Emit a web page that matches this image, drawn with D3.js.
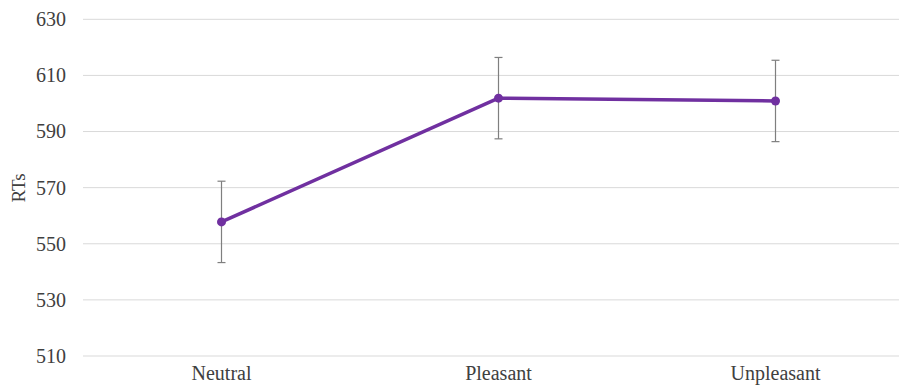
<!DOCTYPE html>
<html>
<head>
<meta charset="utf-8">
<script src="https://cdn.jsdelivr.net/npm/d3@7/dist/d3.min.js"></script>
<style>
  html, body { margin: 0; padding: 0; background: #fff; }
  svg { display: block; }
</style>
</head>
<body>
<svg id="chart" width="899" height="391"></svg>
<script>
// Mean reaction times per picture category, with error bar half-widths
const categories = ["Neutral", "Pleasant", "Unpleasant"];
const meanRT = [557.8, 601.9, 600.9];
const errorRT = [14.5, 14.5, 14.5];
const yTicks = [510, 530, 550, 570, 590, 610, 630];
const yLabel = "RTs";

const W = 899, H = 391;
const plot = { left: 83, right: 914, top: 19.3, bottom: 356 };
const FONT = "'Liberation Serif', 'Times New Roman', serif";
const TEXT_COLOR = "#404040";

const svg = d3.select("#chart");

const x = d3.scaleBand().domain(categories).range([plot.left, plot.right]);
const y = d3.scaleLinear().domain([510, 630]).range([plot.bottom, plot.top]);

// Horizontal gridlines
svg.append("g")
  .selectAll("line")
  .data(yTicks)
  .join("line")
  .attr("x1", plot.left)
  .attr("x2", W)
  .attr("y1", d => y(d))
  .attr("y2", d => y(d))
  .attr("stroke", "#d9d9d9")
  .attr("stroke-width", 1);

// Y axis tick labels
const yAxis = d3.axisLeft(y).tickValues(yTicks).tickSize(0).tickPadding(0);
const gy = svg.append("g")
  .attr("transform", `translate(66,0)`)
  .call(yAxis);
gy.select(".domain").remove();
gy.selectAll("text")
  .style("font-family", FONT)
  .style("font-size", "20px")
  .style("fill", TEXT_COLOR);

// X axis category labels
const xAxis = d3.axisBottom(x).tickSize(0).tickPadding(0);
const gx = svg.append("g")
  .attr("transform", `translate(0,366)`)
  .call(xAxis);
gx.select(".domain").remove();
gx.selectAll("text")
  .style("font-family", FONT)
  .style("font-size", "20px")
  .style("fill", TEXT_COLOR);

// Y axis title
svg.append("text")
  .attr("transform", `translate(25,188) rotate(-90)`)
  .attr("text-anchor", "middle")
  .style("font-family", FONT)
  .style("font-size", "19px")
  .style("fill", TEXT_COLOR)
  .text(yLabel);

const cx = d => x(d) + x.bandwidth() / 2;
const rows = categories.map((c, i) => ({ c, m: meanRT[i], e: errorRT[i] }));

// Connecting line
svg.append("path")
  .datum(rows)
  .attr("fill", "none")
  .attr("stroke", "#7030a0")
  .attr("stroke-width", 3.5)
  .attr("stroke-linejoin", "round")
  .attr("d", d3.line().x(d => cx(d.c)).y(d => y(d.m)));

// Error bars
const eb = svg.append("g").attr("stroke", "#7f7f7f").attr("stroke-width", 1.2);
eb.selectAll("line.v")
  .data(rows).join("line")
  .attr("x1", d => cx(d.c)).attr("x2", d => cx(d.c))
  .attr("y1", d => y(d.m + d.e)).attr("y2", d => y(d.m - d.e));
eb.selectAll("line.t")
  .data(rows).join("line")
  .attr("x1", d => cx(d.c) - 4).attr("x2", d => cx(d.c) + 4)
  .attr("y1", d => y(d.m + d.e)).attr("y2", d => y(d.m + d.e));
eb.selectAll("line.b")
  .data(rows).join("line")
  .attr("x1", d => cx(d.c) - 4).attr("x2", d => cx(d.c) + 4)
  .attr("y1", d => y(d.m - d.e)).attr("y2", d => y(d.m - d.e));

// Markers
svg.append("g")
  .selectAll("circle")
  .data(rows).join("circle")
  .attr("cx", d => cx(d.c))
  .attr("cy", d => y(d.m))
  .attr("r", 4.5)
  .attr("fill", "#7030a0");
</script>
</body>
</html>
